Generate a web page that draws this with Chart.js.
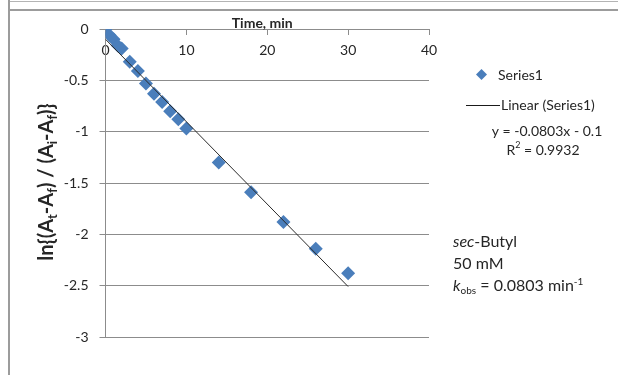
<!DOCTYPE html>
<html>
<head>
<meta charset="utf-8">
<script src="https://cdn.jsdelivr.net/npm/chart.js@4/dist/chart.umd.min.js"></script>
<style>
  html, body { margin: 0; padding: 0; background: #ffffff; }
  #wrap { position: relative; width: 618px; height: 375px; overflow: hidden; }
  #topRule { position: absolute; left: 8px; top: 1px; width: 610px; height: 0; border-top: 1px solid #b4b4b4; }
  #frame { position: absolute; left: 8px; top: 9px; width: 640px; height: 400px; border-left: 2px solid #9c9c9c; border-top: 2px solid #9c9c9c; }
  #edge { position: absolute; left: 8px; top: 0; width: 0; height: 12px; border-left: 2px solid #9c9c9c; }
  canvas { position: absolute; left: 0; top: 0; }
</style>
</head>
<body>
<div id="wrap">
  <div id="topRule"></div>
  <div id="edge"></div>
  <div id="frame"></div>
  <canvas id="chart" width="618" height="375"></canvas>
</div>
<script>
// Reaction time (min) and ln{(At-Af)/(Ai-Af)}
const times   = [0, 0.5, 1, 1.5, 2, 3, 4, 5, 6, 7, 8, 9, 10, 14, 18, 22, 26, 30];
const lnRatio = [0, -0.06, -0.10, -0.16, -0.19, -0.32, -0.41, -0.53, -0.63, -0.71, -0.80, -0.88, -0.97, -1.30, -1.59, -1.88, -2.14, -2.38];

// Linear fit reported on the chart
const fitSlope = -0.0803;
const fitIntercept = -0.1;
const fitR2 = 0.9932;
const fitRange = [0, 30];

const xTicks = [0, 10, 20, 30, 40];
const yTicks = [0, -0.5, -1, -1.5, -2, -2.5, -3];

const seriesName = 'Series1';
const markerColor = '#4a7ebb';
const textColor = '#262626';

const points = times.map((t, i) => ({ x: t, y: lnRatio[i] }));
const fitPoints = fitRange.map(t => ({ x: t, y: fitSlope * t + fitIntercept }));

Chart.defaults.font.family = 'Lato, "DejaVu Sans", sans-serif';
Chart.defaults.color = textColor;

function setFont(ctx, p) {
  ctx.font = (p[3] ? 'italic ' : '') + (p[4] ? 'bold ' : '') + p[1] + 'px Lato';
}
function richText(ctx, parts, x, y) {
  // parts: [text, size, dy, italic, bold]
  let cx = x;
  parts.forEach(p => {
    setFont(ctx, p);
    ctx.fillText(p[0], cx, y + p[2]);
    cx += ctx.measureText(p[0]).width;
  });
  return cx - x;
}
function richWidth(ctx, parts) {
  let w = 0;
  parts.forEach(p => { setFont(ctx, p); w += ctx.measureText(p[0]).width; });
  return w;
}

const annotations = {
  id: 'annotations',
  afterDraw(chart) {
    const ctx = chart.ctx;
    const xs = chart.scales.x, ys = chart.scales.y;
    ctx.save();
    ctx.fillStyle = textColor;
    ctx.textBaseline = 'alphabetic';

    // x axis title, above the axis line
    ctx.font = 'bold 14px Lato';
    ctx.textAlign = 'center';
    ctx.fillText('Time, min', (xs.left + xs.right) / 2 - 5, ys.getPixelForValue(0) - 1);

    // y axis title, rotated
    ctx.textAlign = 'left';
    const B = 20, S = 13;
    const yParts = [
      ['ln{(A', B, 0, false, true], ['t', S, 4, false, true], ['-A', B, 0, false, true], ['f', S, 4, false, true],
      [') / (A', B, 0, false, true], ['i', S, 4, false, true], ['-A', B, 0, false, true], ['f', S, 4, false, true],
      [')}', B, 0, false, true]
    ];
    ctx.save();
    ctx.translate(46, (ys.top + ys.bottom) / 2 - 1);
    ctx.rotate(-Math.PI / 2);
    const w = richWidth(ctx, yParts);
    richText(ctx, yParts, -w / 2, 7);
    ctx.restore();

    // legend: marker entry
    ctx.fillStyle = markerColor;
    ctx.beginPath();
    const mx = 481.5, my = 74.5, mr = 5.5;
    ctx.moveTo(mx, my - mr); ctx.lineTo(mx + mr, my); ctx.lineTo(mx, my + mr); ctx.lineTo(mx - mr, my);
    ctx.closePath(); ctx.fill();
    ctx.fillStyle = textColor;
    ctx.font = '14px Lato';
    ctx.textBaseline = 'middle';
    ctx.fillText(seriesName, 498, 75);

    // legend: trendline entry
    ctx.strokeStyle = '#1a1a1a';
    ctx.lineWidth = 1;
    ctx.beginPath(); ctx.moveTo(466, 105.5); ctx.lineTo(500, 105.5); ctx.stroke();
    ctx.fillText('Linear (' + seriesName + ')', 501, 105);

    // fit equation and R²
    ctx.textAlign = 'center';
    const eq = 'y = ' + fitSlope.toFixed(4) + 'x - ' + Math.abs(fitIntercept);
    ctx.fillText(eq, 547, 131);
    const r2a = 'R', r2b = '2', r2c = ' = ' + fitR2.toFixed(4);
    ctx.font = '14px Lato'; const wa = ctx.measureText(r2a).width, wc = ctx.measureText(r2c).width;
    ctx.font = '9px Lato'; const wb = ctx.measureText(r2b).width;
    const sx = 543 - (wa + wb + wc) / 2;
    ctx.textAlign = 'left';
    richText(ctx, [[r2a, 14, 0], [r2b, 9, -5], [r2c, 14, 0]], sx, 150);

    // sample description
    ctx.textBaseline = 'alphabetic';
    richText(ctx, [['sec', 16, 0, true], ['-Butyl', 16, 0]], 453, 247);
    richText(ctx, [['50 mM', 16, 0]], 453, 269);
    richText(ctx, [['k', 16, 0, true], ['obs', 10, 3], [' = ' + Math.abs(fitSlope).toFixed(4) + ' min', 16, 0], ['-1', 10, -6]], 453, 291);

    ctx.restore();
  }
};

new Chart(document.getElementById('chart'), {
  type: 'scatter',
  data: {
    datasets: [
      {
        label: 'Linear (' + seriesName + ')',
        data: fitPoints,
        showLine: true,
        borderColor: '#2a2a2a',
        borderWidth: 1,
        pointRadius: 0,
        pointHoverRadius: 0
      },
      {
        label: seriesName,
        data: points,
        pointStyle: 'rectRot',
        pointRadius: 7,
        pointHoverRadius: 7,
        backgroundColor: markerColor,
        borderColor: markerColor,
        borderWidth: 0
      }
    ]
  },
  plugins: [annotations],
  options: {
    responsive: false,
    animation: false,
    events: [],
    layout: { padding: { left: 0, right: 189, top: 29, bottom: 38 } },
    plugins: { legend: { display: false }, tooltip: { enabled: false } },
    scales: {
      x: {
        type: 'linear',
        position: { y: 0 },
        min: 0, max: 40,
        afterBuildTicks: s => { s.ticks = xTicks.map(v => ({ value: v })); },
        ticks: { padding: 8, font: { size: 14 }, color: textColor, callback: v => String(v) },
        grid: { drawOnChartArea: false, drawTicks: true, tickLength: 5, color: '#8c8c8c' },
        border: { color: '#8c8c8c' }
      },
      y: {
        type: 'linear',
        position: 'left',
        min: -3, max: 0,
        afterFit: s => { s.width = 105.5; },
        afterBuildTicks: s => { s.ticks = yTicks.map(v => ({ value: v })); },
        ticks: { padding: 11, font: { size: 14 }, color: textColor, callback: v => String(v) },
        grid: { color: '#8c8c8c', drawTicks: true, tickLength: 6 },
        border: { color: '#8c8c8c' }
      }
    }
  }
});
</script>
</body>
</html>
